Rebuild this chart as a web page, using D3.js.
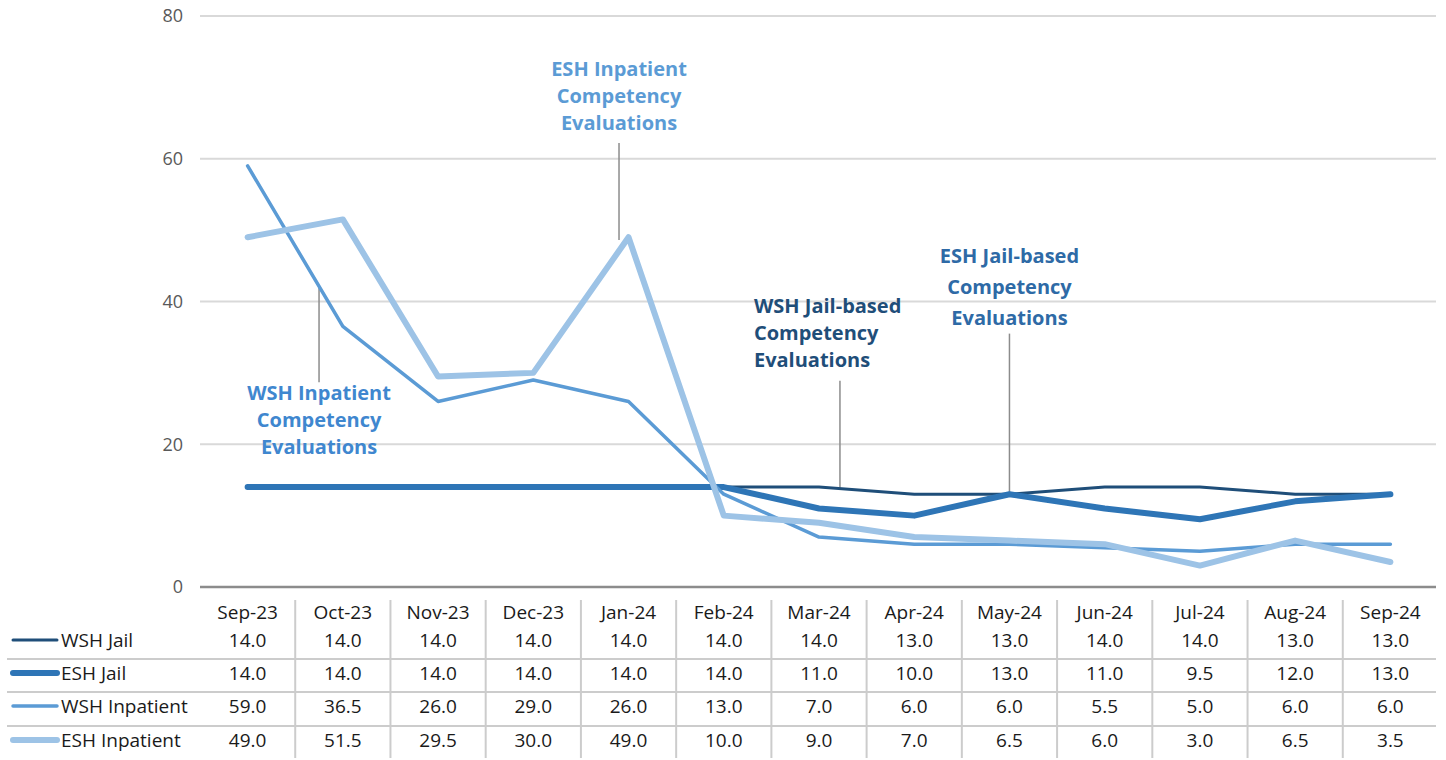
<!DOCTYPE html>
<html>
<head>
<meta charset="utf-8">
<script src="https://cdn.jsdelivr.net/npm/d3@7"></script>
<style>
  html, body { margin: 0; padding: 0; background: #fff; }
  svg { display: block; font-family: "Open Sans", "Noto Sans", sans-serif; }
</style>
</head>
<body>
<svg id="chart" width="1446" height="760"></svg>
<script>
const months = ["Sep-23","Oct-23","Nov-23","Dec-23","Jan-24","Feb-24","Mar-24","Apr-24","May-24","Jun-24","Jul-24","Aug-24","Sep-24"];
const wshJail = [14.0,14.0,14.0,14.0,14.0,14.0,14.0,13.0,13.0,14.0,14.0,13.0,13.0];
const eshJail = [14.0,14.0,14.0,14.0,14.0,14.0,11.0,10.0,13.0,11.0,9.5,12.0,13.0];
const wshInpatient = [59.0,36.5,26.0,29.0,26.0,13.0,7.0,6.0,6.0,5.5,5.0,6.0,6.0];
const eshInpatient = [49.0,51.5,29.5,30.0,49.0,10.0,9.0,7.0,6.5,6.0,3.0,6.5,3.5];
const yTicks = [0,20,40,60,80];

const seriesNames = ["WSH Jail","ESH Jail","WSH Inpatient","ESH Inpatient"];
const seriesValues = [wshJail, eshJail, wshInpatient, eshInpatient];
const seriesColors = ["#1f4e79","#2e75b6","#5b9bd5","#9dc3e6"];
const seriesWidths = [3, 6, 3.5, 6];

// annotations: [label lines, color, align, leader x index, leader top value, leader bottom value]
const annotations = [
  {lines:["ESH Inpatient","Competency","Evaluations"], color:"#5b9bd5", idx:3.9, top:62.2, bottom:48.6, textY:[69,96,123], anchor:"middle", dx:0},
  {lines:["WSH Inpatient","Competency","Evaluations"], color:"#3f87cf", idx:0.75, top:41.9, bottom:28.7, textY:[393,420,447], anchor:"middle", dx:0},
  {lines:["WSH Jail-based","Competency","Evaluations"], color:"#1f4e79", idx:6.22, top:28.9, bottom:13.9, textY:[306,333,360], anchor:"start", dx:-86},
  {lines:["ESH Jail-based","Competency","Evaluations"], color:"#2e6aa6", idx:8.0, top:35.5, bottom:13.2, textY:[256,287,318], anchor:"middle", dx:0}
];

const svg = d3.select("#chart");
const left = 200, right = 1438;
const x = d3.scaleBand().domain(months).range([left, right]).padding(0);
const bw = x.bandwidth();
const cx = m => x(m) + bw / 2;
const y = d3.scaleLinear().domain([0, 80]).range([587, 16]);
const xIdx = i => x(months[0]) + bw / 2 + i * bw;

// gridlines
svg.append("g").selectAll("line").data(yTicks.filter(d => d > 0)).join("line")
  .attr("x1", left).attr("x2", right - 2)
  .attr("y1", d => y(d)).attr("y2", d => y(d))
  .attr("stroke", "#d9d9d9").attr("stroke-width", 2);

// y tick labels
svg.append("g").selectAll("text").data(yTicks).join("text")
  .attr("x", 183).attr("y", d => y(d)).attr("dy", "0.36em")
  .attr("text-anchor", "end").attr("font-size", 18).attr("fill", "#595959")
  .text(d => d);

// baseline axis
svg.append("line").attr("x1", left).attr("x2", right - 2)
  .attr("y1", y(0)).attr("y2", y(0))
  .attr("stroke", "#8c8c8c").attr("stroke-width", 2.5);

// leader lines
svg.append("g").selectAll("line").data(annotations).join("line")
  .attr("x1", d => xIdx(d.idx)).attr("x2", d => xIdx(d.idx))
  .attr("y1", d => y(d.top)).attr("y2", d => y(d.bottom))
  .attr("stroke", "#8c8c8c").attr("stroke-width", 1.5);

// series lines
const line = d3.line().x((d, i) => cx(months[i])).y(d => y(d));
svg.append("g").selectAll("path").data(seriesValues).join("path")
  .attr("d", d => line(d))
  .attr("fill", "none")
  .attr("stroke", (d, i) => seriesColors[i])
  .attr("stroke-width", (d, i) => seriesWidths[i])
  .attr("stroke-linejoin", "round").attr("stroke-linecap", "round");

// annotation labels
annotations.forEach(a => {
  const t = svg.append("text").attr("font-size", 20).attr("font-weight", "bold")
    .attr("fill", a.color).attr("text-anchor", a.anchor);
  a.lines.forEach((ln, k) => {
    t.append("tspan").attr("x", xIdx(a.idx) + a.dx).attr("y", a.textY[k]).attr("dy", "0.36em").text(ln);
  });
});

// data table
const headerY = 612;
const rowY = [640, 673, 706, 740];
const rowLines = [659, 692, 726];
const tbl = svg.append("g");

tbl.selectAll("line.v").data(months.slice(1)).join("line")
  .attr("class", "v")
  .attr("x1", d => x(d)).attr("x2", d => x(d))
  .attr("y1", 600).attr("y2", 758)
  .attr("stroke", "#cccccc").attr("stroke-width", 2);

tbl.selectAll("line.h").data(rowLines).join("line")
  .attr("class", "h")
  .attr("x1", 7).attr("x2", right - 2)
  .attr("y1", d => d).attr("y2", d => d)
  .attr("stroke", "#cccccc").attr("stroke-width", 2);

tbl.selectAll("text.hd").data(months).join("text")
  .attr("class", "hd")
  .attr("x", d => cx(d)).attr("y", headerY).attr("dy", "0.36em")
  .attr("text-anchor", "middle").attr("font-size", 19).attr("fill", "#1a1a1a")
  .text(d => d);

seriesValues.forEach((vals, r) => {
  tbl.append("line")
    .attr("x1", 13).attr("x2", 57)
    .attr("y1", rowY[r]).attr("y2", rowY[r])
    .attr("stroke", seriesColors[r]).attr("stroke-width", seriesWidths[r])
    .attr("stroke-linecap", "round");
  tbl.append("text").attr("x", 61).attr("y", rowY[r]).attr("dy", "0.36em")
    .attr("font-size", 19).attr("fill", "#1a1a1a").text(seriesNames[r]);
  tbl.append("g").selectAll("text").data(vals).join("text")
    .attr("x", (d, i) => cx(months[i])).attr("y", rowY[r]).attr("dy", "0.36em")
    .attr("text-anchor", "middle").attr("font-size", 19).attr("fill", "#1a1a1a")
    .text(d => d.toFixed(1));
});
</script>
</body>
</html>
